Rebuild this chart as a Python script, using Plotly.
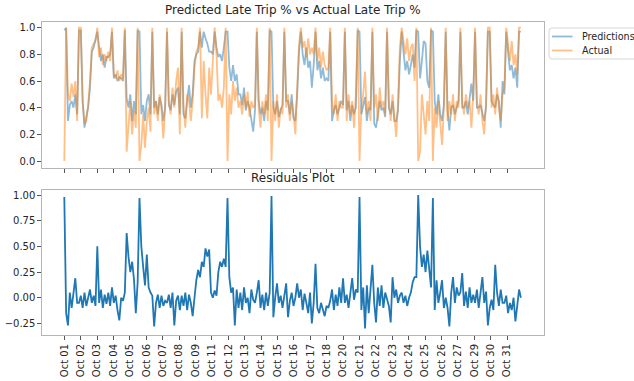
import plotly.graph_objects as go

# ---- data (3-hour samples, 8 per day) ----
actual_by_day = [
    [0.0, 1.0, 0.5, 0.45, 0.58, 0.48, 0.6, 0.3],
    [1.0, 1.0, 0.45, 0.28, 0.3, 0.42, 0.6, 0.85],
    [0.88, 0.9, 1.0, 0.78, 0.85, 0.72, 0.8, 0.75],
    [0.82, 0.75, 1.0, 0.65, 0.62, 0.68, 0.6, 0.65],
    [0.62, 1.0, 0.07, 0.3, 0.45, 0.2, 0.38, 0.25],
    [1.0, 0.0, 0.12, 0.35, 0.1, 0.3, 0.4, 0.22],
    [1.0, 0.35, 0.45, 0.3, 0.5, 0.38, 0.17, 0.4],
    [1.0, 0.45, 0.35, 0.55, 0.4, 0.6, 0.7, 0.2],
    [1.0, 0.4, 0.25, 0.5, 0.45, 0.3, 0.45, 0.7],
    [0.82, 0.85, 1.0, 0.32, 0.75, 0.5, 0.32, 0.7],
    [0.5, 0.75, 1.0, 0.8, 0.45, 0.5, 0.4, 0.55],
    [1.0, 0.0, 0.5, 0.35, 0.6, 0.45, 0.55, 0.4],
    [0.45, 0.35, 0.5, 0.4, 0.52, 0.33, 0.45, 0.4],
    [0.42, 1.0, 0.4, 0.25, 0.45, 0.35, 0.5, 0.3],
    [1.0, 0.0, 0.45, 0.3, 0.5, 0.25, 0.4, 0.35],
    [1.0, 0.4, 0.5, 0.3, 0.45, 0.35, 0.2, 0.55],
    [0.87, 1.0, 0.85, 0.9, 0.78, 0.92, 0.8, 0.85],
    [0.8, 1.0, 0.75, 0.85, 0.7, 0.82, 0.72, 0.68],
    [0.7, 1.0, 0.45, 0.35, 0.5, 0.3, 0.45, 0.4],
    [0.4, 1.0, 0.3, 0.5, 0.35, 0.45, 0.25, 0.5],
    [1.0, 0.0, 0.4, 0.5, 0.67, 0.35, 0.45, 0.3],
    [1.0, 0.4, 0.5, 0.3, 0.55, 0.4, 0.45, 0.35],
    [1.0, 0.45, 0.3, 0.5, 0.35, 0.18, 0.45, 0.85],
    [1.0, 0.9, 0.8, 0.92, 0.75, 0.85, 0.88, 0.6],
    [1.0, 0.0, 0.07, 0.5, 0.35, 0.2, 0.45, 0.3],
    [1.0, 0.0, 0.4, 0.25, 0.45, 0.3, 0.12, 0.4],
    [1.0, 0.3, 0.45, 0.35, 0.5, 0.3, 0.45, 0.4],
    [1.0, 0.45, 0.35, 0.5, 0.4, 0.45, 0.25, 0.5],
    [1.0, 0.45, 0.35, 0.5, 0.3, 0.2, 0.45, 1.0],
    [1.0, 0.4, 0.5, 0.35, 0.55, 0.4, 0.3, 0.5],
    [0.55, 1.0, 0.88, 0.75, 0.9, 0.72, 0.8, 0.65],
    [1.0, 1.0],
]

pred_by_day = [
    [0.98, 1.0, 0.3, 0.42, 0.45, 0.4, 0.5, 0.35],
    [0.98, 0.98, 0.45, 0.25, 0.33, 0.4, 0.55, 0.82],
    [0.85, 0.92, 0.97, 0.85, 0.75, 0.8, 0.7, 0.78],
    [0.78, 0.8, 0.97, 0.62, 0.65, 0.6, 0.63, 0.62],
    [0.6, 0.98, 0.47, 0.4, 0.5, 0.3, 0.45, 0.35],
    [0.98, 0.97, 0.35, 0.42, 0.3, 0.45, 0.5, 0.35],
    [0.97, 0.4, 0.45, 0.35, 0.48, 0.42, 0.3, 0.4],
    [0.97, 0.42, 0.38, 0.5, 0.42, 0.52, 0.55, 0.35],
    [0.97, 0.35, 0.32, 0.45, 0.57, 0.4, 0.5, 0.75],
    [0.8, 0.82, 0.97, 0.85, 0.97, 0.92, 0.88, 0.82],
    [0.82, 0.8, 0.97, 0.85, 0.78, 0.8, 0.75, 0.85],
    [0.97, 0.97, 0.7, 0.6, 0.72, 0.6, 0.65, 0.5],
    [0.5, 0.42, 0.55, 0.38, 0.45, 0.4, 0.3, 0.22],
    [0.38, 0.97, 0.45, 0.35, 0.4, 0.3, 0.45, 0.38],
    [0.98, 0.97, 0.4, 0.35, 0.45, 0.33, 0.38, 0.42],
    [0.97, 0.45, 0.45, 0.35, 0.5, 0.32, 0.3, 0.5],
    [0.82, 0.97, 0.8, 0.72, 0.85, 0.7, 0.75, 0.55],
    [0.72, 0.97, 0.68, 0.75, 0.62, 0.7, 0.6, 0.62],
    [0.6, 0.97, 0.3, 0.38, 0.42, 0.35, 0.4, 0.45],
    [0.42, 0.97, 0.38, 0.45, 0.3, 0.42, 0.35, 0.4],
    [0.98, 0.97, 0.35, 0.42, 0.48, 0.3, 0.4, 0.38],
    [0.97, 0.28, 0.25, 0.35, 0.45, 0.38, 0.4, 0.33],
    [0.97, 0.4, 0.35, 0.45, 0.3, 0.3, 0.38, 0.75],
    [0.97, 0.82, 0.68, 0.75, 0.65, 0.72, 0.8, 0.7],
    [0.98, 0.97, 0.62, 0.75, 0.9, 0.88, 0.6, 0.55],
    [0.98, 0.97, 0.45, 0.35, 0.5, 0.35, 0.3, 0.42],
    [0.97, 0.38, 0.23, 0.4, 0.42, 0.35, 0.4, 0.45],
    [0.97, 0.4, 0.4, 0.45, 0.35, 0.45, 0.58, 0.45],
    [0.97, 0.4, 0.4, 0.42, 0.35, 0.3, 0.4, 0.97],
    [0.97, 0.45, 0.42, 0.4, 0.5, 0.45, 0.25, 0.6],
    [0.5, 0.97, 0.82, 0.68, 0.72, 0.62, 0.7, 0.55],
    [0.97, 0.97],
]

resid_by_day = [
    [0.98, -0.15, -0.27, 0.05, -0.1, 0.03, 0.19, -0.05],
    [-0.05, 0.02, -0.1, 0.05, -0.08, 0.0, 0.08, -0.05],
    [0.02, -0.08, 0.5, -0.05, 0.08, -0.1, 0.03, -0.06],
    [0.05, -0.08, 0.1, -0.05, 0.02, -0.12, -0.22, 0.0],
    [-0.03, 0.05, 0.63, 0.4, 0.25, 0.35, 0.18, -0.15],
    [0.15, 0.97, 0.5, 0.3, 0.12, 0.42, 0.1, 0.05],
    [0.02, -0.28, -0.05, 0.03, -0.1, 0.02, -0.08, -0.03],
    [-0.05, 0.03, -0.1, 0.05, -0.27, -0.03, 0.02, -0.12],
    [0.02, -0.08, 0.05, -0.12, 0.03, -0.05, -0.18, 0.0],
    [0.17, 0.27, 0.2, 0.35, 0.3, 0.48, 0.4, 0.47],
    [0.05, 0.0, 0.07, 0.02, 0.25, 0.35, 0.3, 0.38],
    [0.3, 0.97, 0.2, 0.05, 0.1, -0.27, 0.08, -0.1],
    [0.05, -0.12, 0.1, -0.05, 0.0, -0.15, 0.08, -0.02],
    [-0.05, 0.05, 0.17, -0.1, 0.03, -0.12, 0.05, -0.08],
    [0.05, 0.99, -0.19, 0.0, 0.14, -0.05, 0.02, -0.1],
    [0.02, 0.14, -0.19, -0.03, 0.05, -0.08, 0.0, 0.14],
    [0.0, 0.08, -0.12, 0.04, -0.05, -0.15, 0.05, -0.25],
    [-0.05, 0.33, -0.1, -0.15, -0.05, -0.12, -0.18, -0.08],
    [-0.1, -0.03, 0.08, -0.12, 0.03, -0.08, 0.1, -0.05],
    [0.19, -0.05, 0.03, -0.1, 0.05, 0.19, -0.02, 0.08],
    [0.05, 0.98, -0.12, 0.1, -0.3, 0.12, -0.15, 0.08],
    [0.32, -0.05, -0.24, 0.1, -0.08, 0.12, -0.1, 0.05],
    [-0.03, -0.08, -0.24, 0.2, 0.0, 0.08, -0.05, 0.02],
    [0.05, -0.05, 0.02, -0.08, 0.0, 0.05, 0.15, 0.2],
    [0.2, 1.0, 0.5, 0.3, 0.42, 0.25, 0.46, 0.3],
    [0.1, 0.97, -0.12, 0.17, -0.05, 0.05, 0.17, -0.1],
    [0.0, -0.1, -0.28, 0.05, 0.2, -0.05, 0.1, 0.02],
    [0.05, 0.24, -0.08, 0.06, -0.1, 0.1, -0.05, 0.03],
    [-0.05, 0.08, -0.1, 0.05, 0.2, -0.05, 0.06, -0.27],
    [-0.1, -0.02, -0.12, 0.32, 0.05, -0.08, 0.08, -0.05],
    [-0.05, 0.02, -0.15, -0.05, -0.12, 0.0, -0.23, -0.08],
    [0.08, 0.0],
]

tick_labels = ["Oct 01", "Oct 02", "Oct 03", "Oct 04", "Oct 05", "Oct 06", "Oct 07",
               "Oct 08", "Oct 09", "Oct 11", "Oct 12", "Oct 13", "Oct 14", "Oct 15",
               "Oct 16", "Oct 17", "Oct 18", "Oct 20", "Oct 21", "Oct 22", "Oct 23",
               "Oct 24", "Oct 25", "Oct 26", "Oct 27", "Oct 29", "Oct 30", "Oct 31"]

series_names = ["Predictions", "Actual"]
series_colors = ["rgba(31,119,180,0.5)", "rgba(255,127,14,0.5)"]

SAMPLES_PER_DAY = 8
TICK_STEP = 1.118  # days between labelled ticks

actual = [v for row in actual_by_day for v in row]
pred = [v for row in pred_by_day for v in row]
resid = [v for row in resid_by_day for v in row]
t = [i / SAMPLES_PER_DAY for i in range(len(actual))]
tick_pos = [k * TICK_STEP for k in range(len(tick_labels))]

W, H = 634, 381
x0, x1 = 42.3 / W, 544 / W
top_dom = [1 - 168 / H, 1 - 22 / H]
bot_dom = [1 - 335 / H, 1 - 190 / H]

FONT = "DejaVu Sans"
TXT = "#262626"
SPINE = "#b5b5b5"
LW = 1.8

fig = go.Figure()
for name, ys, col in zip(series_names, [pred, actual], series_colors):
    fig.add_trace(go.Scatter(x=t, y=ys, mode="lines", name=name,
                             line=dict(color=col, width=LW), showlegend=False,
                             xaxis="x", yaxis="y"))
fig.add_trace(go.Scatter(x=t, y=resid, mode="lines", name="Residuals",
                         line=dict(color="#1f77b4", width=LW), showlegend=False,
                         xaxis="x2", yaxis="y2"))

xr = [-1.5, 32.7]
common_x = dict(range=xr, showgrid=False, zeroline=False, showline=True, mirror=True,
                linecolor=SPINE, linewidth=1, ticks="outside", ticklen=4,
                tickcolor="#555555", tickwidth=1, tickvals=tick_pos, ticktext=tick_labels,
                tickfont=dict(family=FONT, size=10, color=TXT))
common_y = dict(showgrid=False, zeroline=False, showline=True, mirror=True,
                linecolor=SPINE, linewidth=1, ticks="outside", ticklen=4,
                tickcolor="#555555", tickwidth=1,
                tickfont=dict(family=FONT, size=10, color=TXT))

# hand-built legend (matches matplotlib's placement outside the axes)
def px(x):
    return x / W

def py(y):
    return 1 - y / H

lx0, lx1, ly0, ly1, r = 549, 660, 28, 59, 3
legend_path = (f"M {px(lx0 + r)},{py(ly0)} L {px(lx1)},{py(ly0)} L {px(lx1)},{py(ly1)} "
               f"L {px(lx0 + r)},{py(ly1)} Q {px(lx0)},{py(ly1)} {px(lx0)},{py(ly1 - r)} "
               f"L {px(lx0)},{py(ly0 + r)} Q {px(lx0)},{py(ly0)} {px(lx0 + r)},{py(ly0)} Z")
shapes = [dict(type="path", xref="paper", yref="paper", path=legend_path,
               line=dict(color="#d6d6d6", width=1), fillcolor="rgba(255,255,255,0.8)")]
annotations = []
for i, (name, col) in enumerate(zip(series_names, series_colors)):
    yy = 36.5 + 14 * i
    shapes.append(dict(type="line", xref="paper", yref="paper",
                       x0=px(552), x1=px(572.5), y0=py(yy), y1=py(yy),
                       line=dict(color=col, width=LW)))
    annotations.append(dict(text=name, xref="paper", yref="paper", x=px(579.5), y=py(yy),
                            xanchor="left", yanchor="middle", showarrow=False,
                            font=dict(family=FONT, size=9.6, color=TXT)))

annotations += [
    dict(text="Predicted Late Trip % vs Actual Late Trip %", xref="paper", yref="paper",
         x=(x0 + x1) / 2, y=top_dom[1], xanchor="center", yanchor="bottom", yshift=3,
         showarrow=False, font=dict(family=FONT, size=12, color=TXT)),
    dict(text="Residuals Plot", xref="paper", yref="paper",
         x=(x0 + x1) / 2, y=bot_dom[1], xanchor="center", yanchor="bottom", yshift=3,
         showarrow=False, font=dict(family=FONT, size=12, color=TXT)),
]

fig.update_layout(
    width=W, height=H,
    margin=dict(l=0, r=0, t=0, b=0, autoexpand=False),
    paper_bgcolor="white", plot_bgcolor="white",
    font=dict(family=FONT, size=10, color=TXT),
    xaxis=dict(domain=[x0, x1], anchor="y", showticklabels=False, **common_x),
    yaxis=dict(domain=top_dom, anchor="x", range=[-0.0525, 1.0425],
               tickvals=[0, 0.2, 0.4, 0.6, 0.8, 1.0], tickformat=".1f", **common_y),
    xaxis2=dict(domain=[x0, x1], anchor="y2", tickangle=-90, **common_x),
    yaxis2=dict(domain=bot_dom, anchor="x2", range=[-0.363, 1.0487],
                tickvals=[-0.25, 0, 0.25, 0.5, 0.75, 1.0], tickformat=".2f", **common_y),
    showlegend=False,
    shapes=shapes,
    annotations=annotations,
)

fig.write_html("out.html")
